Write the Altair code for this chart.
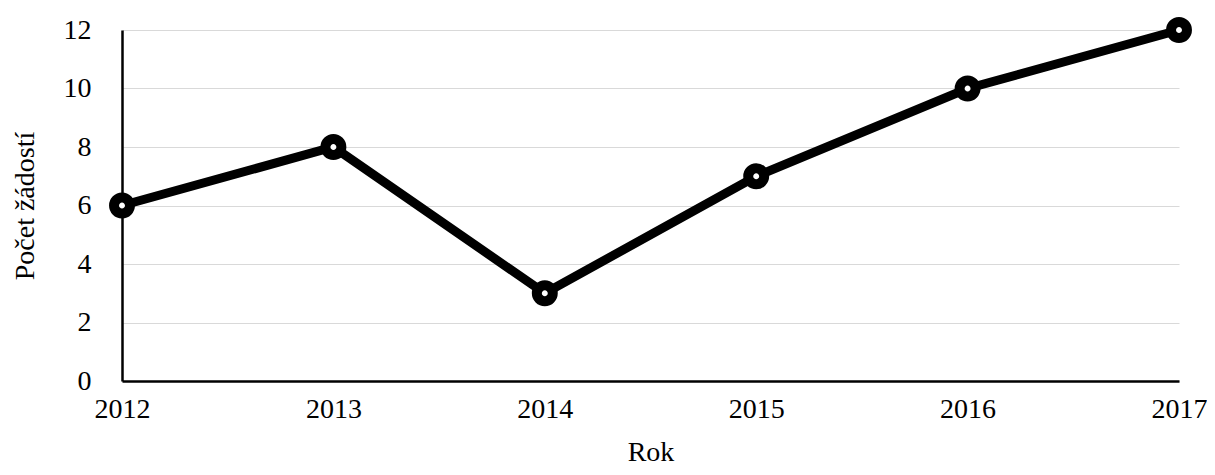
import altair as alt
import pandas as pd

years = [2012, 2013, 2014, 2015, 2016, 2017]
counts = [6, 8, 3, 7, 10, 12]

df = pd.DataFrame({"Rok": years, "Počet žádostí": counts})

FONT = "Liberation Serif"

base = alt.Chart(df).encode(
    x=alt.X("Rok:Q",
            scale=alt.Scale(domain=[2012, 2017], nice=False, zero=False),
            axis=alt.Axis(values=years, format="d", title="Rok", grid=False,
                          ticks=False, domainColor="black", domainWidth=2.5,
                          labelFont=FONT, labelFontSize=28, labelColor="black",
                          labelPadding=14, titleFont=FONT, titleFontSize=28,
                          titleFontWeight="normal", titleColor="black",
                          titlePadding=15, labelFlush=False)),
    y=alt.Y("Počet žádostí:Q",
            scale=alt.Scale(domain=[0, 12], nice=False),
            axis=alt.Axis(values=[0, 2, 4, 6, 8, 10, 12], title="Počet žádostí",
                          grid=True, gridColor="#d9d9d9", gridWidth=1,
                          ticks=False, domainColor="black", domainWidth=2.5,
                          labelFont=FONT, labelFontSize=28, labelColor="black",
                          labelPadding=31, titleFont=FONT, titleFontSize=28,
                          titleFontWeight="normal", titleColor="black",
                          titlePadding=24)),
)

line = base.mark_line(color="black", strokeWidth=9)
points = base.mark_point(filled=True, fill="white", stroke="black",
                         strokeWidth=10, size=254, opacity=1, shape="circle")

chart = (line + points).properties(
    width=1057, height=351,
    autosize=alt.AutoSizeParams(type="none"),
    padding={"left": 114, "top": 22, "right": 28, "bottom": 85},
).configure_view(stroke=None)

chart.save("out.html", embed_options={"renderer": "svg", "actions": False})
